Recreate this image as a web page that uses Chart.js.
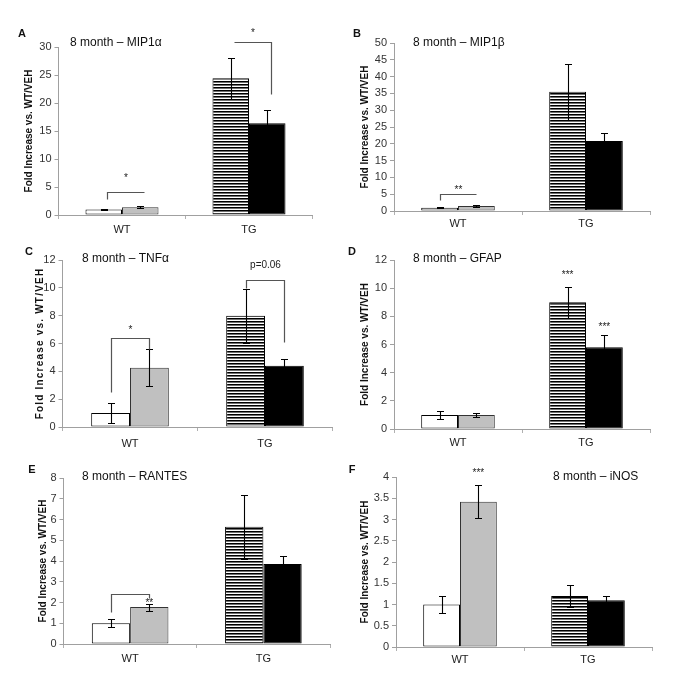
<!DOCTYPE html>
<html><head><meta charset="utf-8">
<script src="https://cdn.jsdelivr.net/npm/chart.js@4/dist/chart.umd.min.js"></script>
<style>
html,body{margin:0;padding:0;background:#fff;width:685px;height:689px;overflow:hidden}
canvas{position:absolute;left:0;top:0}
</style></head><body>
<script>
// ---------- data ----------
const categories = ['WT', 'TG'];

// A: MIP1α
const mip1aVeh = [1.0, 24.4];
const mip1aVehErr = [0.1, 3.6];
const mip1aTrt = [1.4, 16.4];
const mip1aTrtErr = [0.15, 2.4];
// B: MIP1β
const mip1bVeh = [1.0, 35.5];
const mip1bVehErr = [0.12, 8.3];
const mip1bTrt = [1.5, 20.8];
const mip1bTrtErr = [0.18, 2.3];
// C: TNFα
const tnfVeh = [1.0, 8.0];
const tnfVehErr = [0.72, 1.95];
const tnfTrt = [4.25, 4.4];
const tnfTrtErr = [1.32, 0.47];
// D: GFAP
const gfapVeh = [1.0, 9.0];
const gfapVehErr = [0.3, 1.1];
const gfapTrt = [1.0, 5.8];
const gfapTrtErr = [0.15, 0.85];
// E: RANTES
const rantesVeh = [1.0, 5.65];
const rantesVehErr = [0.2, 1.55];
const rantesTrt = [1.78, 3.85];
const rantesTrtErr = [0.17, 0.4];
// F: iNOS
const inosVeh = [1.0, 1.2];
const inosVehErr = [0.2, 0.27];
const inosTrt = [3.42, 1.1];
const inosTrtErr = [0.39, 0.1];

// y-axis tick settings [max, step]
const ticksA = [30, 5];
const ticksB = [50, 5];
const ticksC = [12, 2];
const ticksD = [12, 2];
const ticksE = [8, 1];
const ticksF = [4, 0.5];

// significance annotations (values in data units)
const bracketsA = [{cat:0, y:4.1, left:2.85, right:null, label:'*', labelY:7.1},
                   {cat:1, y:30.9, left:null, right:21.6, label:'*', labelY:33.0}];
const bracketsB = [{cat:0, y:5.06, left:3.3, right:null, label:'**', labelY:7.1}];
const bracketsC = [{cat:0, y:6.4, left:2.5, right:5.6, label:'*', labelY:7.2},
                   {cat:1, y:10.56, left:10.0, right:6.1, label:'p=0.06', labelY:11.6}];
const bracketsE = [{cat:0, y:2.41, left:1.54, right:2.2, label:null}];
const marksD = [{ds:0, cat:1, label:'***', y:11.15}, {ds:1, cat:1, label:'***', y:7.45}];
const marksE = [{ds:1, cat:0, label:'**', y:2.12}];
const marksF = [{ds:1, cat:0, label:'***', y:4.16}];

// ---------- layout ----------
const FONT = "'Liberation Sans', Arial, Helvetica, sans-serif";
const panels = [
 {id:'A', title:'8 month – MIP1α', veh:mip1aVeh, vehErr:mip1aVehErr, trt:mip1aTrt, trtErr:mip1aTrtErr, ticks:ticksA,
  box:{l:58.5,r:312.5,t:47,b:215}, titleX:70, titleY:43, letterX:22, letterY:34, yTitleX:29, xPad:4, ls:0, dx:3.5, brackets:bracketsA, marks:[]},
 {id:'B', title:'8 month – MIP1β', veh:mip1bVeh, vehErr:mip1bVehErr, trt:mip1bTrt, trtErr:mip1bTrtErr, ticks:ticksB,
  box:{l:394,r:650,t:43,b:211}, titleX:413, titleY:43, letterX:357, letterY:34, yTitleX:365, xPad:2, ls:0, dx:0, brackets:bracketsB, marks:[]},
 {id:'C', title:'8 month – TNFα', veh:tnfVeh, vehErr:tnfVehErr, trt:tnfTrt, trtErr:tnfTrtErr, ticks:ticksC,
  box:{l:62.5,r:332.5,t:260,b:427}, titleX:82, titleY:259, letterX:29, letterY:252, yTitleX:40, xPad:6, ls:1.2, dx:0, brackets:bracketsC, marks:[], narrow:true},
 {id:'D', title:'8 month – GFAP', veh:gfapVeh, vehErr:gfapVehErr, trt:gfapTrt, trtErr:gfapTrtErr, ticks:ticksD,
  box:{l:394,r:650,t:260,b:429}, titleX:413, titleY:259, letterX:352, letterY:252, yTitleX:365, xPad:3, ls:0, dx:0, brackets:[], marks:marksD},
 {id:'E', title:'8 month – RANTES', veh:rantesVeh, vehErr:rantesVehErr, trt:rantesTrt, trtErr:rantesTrtErr, ticks:ticksE,
  box:{l:63.5,r:330,t:478,b:644}, titleX:82, titleY:477, letterX:32, letterY:470, yTitleX:43, xPad:4, ls:0, dx:0, brackets:bracketsE, marks:marksE},
 {id:'F', title:'8 month – iNOS', veh:inosVeh, vehErr:inosVehErr, trt:inosTrt, trtErr:inosTrtErr, ticks:ticksF,
  box:{l:396,r:652,t:477,b:647}, titleX:553, titleY:477, letterX:352, letterY:470, yTitleX:365, xPad:2, ls:0, dx:0, brackets:[], marks:marksF}
];

function drawStar(c, text, x, yPix){
  c.font = '10px ' + FONT; c.textAlign = 'center';
  if (text.indexOf('*') >= 0) {
    c.textBaseline = 'alphabetic';
    c.fillText(text, x, yPix + 6);
  } else {
    c.textBaseline = 'middle';
    c.fillText(text, x, yPix);
  }
}

function annot(p){
  return {
    id:'annot' + p.id,
    afterDatasetsDraw(chart){
      const c = chart.ctx, ys = chart.scales.y;
      c.save();
      c.strokeStyle = '#000'; c.lineWidth = 1.1;
      chart.data.datasets.forEach((ds, di) => {
        const meta = chart.getDatasetMeta(di);
        meta.data.forEach((bar, i) => {
          const v = ds.data[i], e = ds.err[i];
          const x = Math.round(bar.x) + 0.5;
          const yt = Math.round(ys.getPixelForValue(v + e)) + 0.5;
          const yb = Math.round(ys.getPixelForValue(v - e)) + 0.5;
          c.beginPath();
          c.moveTo(x, yt); c.lineTo(x, yb);
          c.moveTo(x - 3.5, yt); c.lineTo(x + 3.5, yt);
          c.moveTo(x - 3.5, yb); c.lineTo(x + 3.5, yb);
          c.stroke();
        });
      });
      c.restore();
    },
    afterDraw(chart){
      const c = chart.ctx, ys = chart.scales.y, area = chart.chartArea;
      const m0 = chart.getDatasetMeta(0), m1 = chart.getDatasetMeta(1);
      c.save();
      c.fillStyle = '#111';
      // panel letter
      c.font = 'bold 11px ' + FONT; c.textAlign = 'center'; c.textBaseline = 'middle';
      c.fillText(p.id, p.letterX, p.letterY);
      // title
      c.font = '12px ' + FONT; c.textAlign = 'left'; c.textBaseline = 'middle';
      c.fillText(p.title, p.titleX, p.titleY);
      // y title
      c.save();
      c.translate(p.yTitleX, (area.top + area.bottom) / 2);
      c.rotate(-Math.PI / 2);
      c.font = 'bold 10px ' + FONT; c.textAlign = 'center'; c.textBaseline = 'middle';
      if (p.ls) { c.letterSpacing = p.ls + 'px'; }
      c.fillText('Fold Increase vs. WT/VEH', 0, 0);
      c.restore();
      // brackets
      c.strokeStyle = '#555'; c.lineWidth = 1.2;
      c.fillStyle = '#222';
      p.brackets.forEach(b => {
        const x1 = Math.round(m0.data[b.cat].x + p.dx) + 0.5, x2 = Math.round(m1.data[b.cat].x + p.dx) + 0.5;
        const yh = Math.round(ys.getPixelForValue(b.y)) + 0.5;
        c.beginPath();
        if (b.left !== null) { c.moveTo(x1, Math.round(ys.getPixelForValue(b.left)) + 0.5); c.lineTo(x1, yh); }
        else c.moveTo(x1, yh);
        c.lineTo(x2, yh);
        if (b.right !== null) c.lineTo(x2, Math.round(ys.getPixelForValue(b.right)) + 0.5);
        c.stroke();
        if (b.label) drawStar(c, b.label, (x1 + x2) / 2, ys.getPixelForValue(b.labelY));
      });
      p.marks.forEach(mk => {
        const meta = chart.getDatasetMeta(mk.ds);
        drawStar(c, mk.label, meta.data[mk.cat].x, ys.getPixelForValue(mk.y));
      });
      c.restore();
    }
  };
}

function makeChart(p){
  const canvas = document.createElement('canvas');
  canvas.width = 685; canvas.height = 689;
  canvas.style.width = '685px'; canvas.style.height = '689px';
  document.body.appendChild(canvas);
  const ctx = canvas.getContext('2d');
  const pc = document.createElement('canvas'); pc.width = 4; pc.height = 3;
  const g = pc.getContext('2d');
  g.fillStyle = '#ffffff'; g.fillRect(0, 0, 4, 3);
  g.fillStyle = '#000000'; g.fillRect(0, 0, 4, 1);
  g.fillStyle = '#707070'; g.fillRect(0, 1, 4, 1);
  const stripes = ctx.createPattern(pc, 'repeat');
  const Wy = 30, Hx = 20;
  new Chart(ctx, {
    type: 'bar',
    data: {
      labels: categories,
      datasets: [
        {data: p.veh, err: p.vehErr, backgroundColor: ['#ffffff', stripes], borderColor: ['#000', '#000'],
         borderWidth: 1, borderSkipped: false, categoryPercentage: 0.575, barPercentage: 1},
        {data: p.trt, err: p.trtErr, backgroundColor: ['#c0c0c0', '#000000'], borderColor: ['#333', '#000'],
         borderWidth: 1, borderSkipped: false, categoryPercentage: 0.575, barPercentage: 1}
      ]
    },
    options: {
      responsive: false, animation: false, devicePixelRatio: 1,
      layout: {padding: {left: p.box.l - Wy, right: 685 - p.box.r, top: p.box.t, bottom: 689 - p.box.b - Hx}},
      plugins: {legend: {display: false}, tooltip: {enabled: false}},
      scales: {
        x: {
          grid: {display: true, drawOnChartArea: false, offset: true, tickLength: 4, color: '#b0b0b0'},
          border: {display: true, color: '#a0a0a0'},
          ticks: {color: '#222', font: {size: 11, family: FONT}, padding: p.xPad, maxRotation: 0},
          afterFit: s => { s.height = Hx; }
        },
        y: {
          min: 0, max: p.ticks[0],
          ticks: {stepSize: p.ticks[1], color: '#333', callback: v => String(Math.round(v * 100) / 100),
                  font: {size: 11, family: p.narrow ? "'Liberation Sans Narrow', " + FONT : FONT}, padding: 3},
          grid: {display: true, drawOnChartArea: false, tickLength: 4, color: '#a0a0a0'},
          border: {display: true, color: '#a0a0a0'},
          afterFit: s => { s.width = Wy; }
        }
      }
    },
    plugins: [annot(p)]
  });
}

panels.forEach(makeChart);
</script>
</body></html>
